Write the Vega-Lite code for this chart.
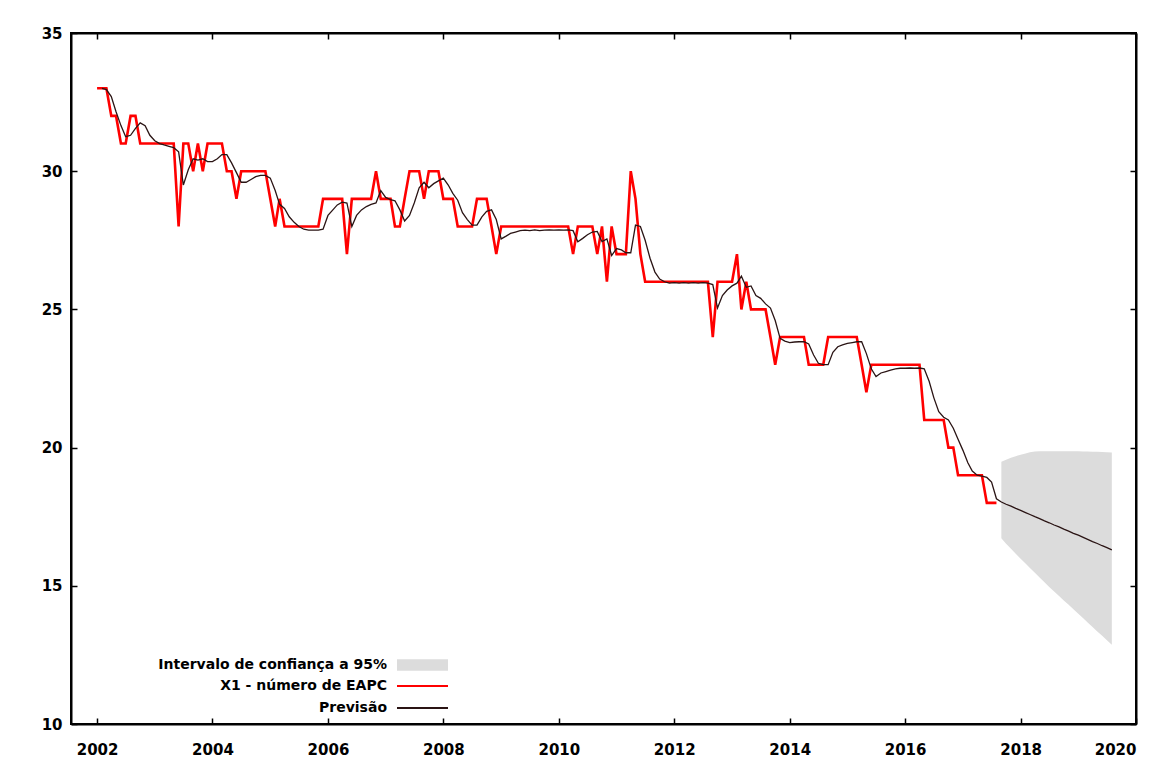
{
  "$schema": "https://vega.github.io/schema/vega-lite/v6.json",
  "width": 1065,
  "height": 691,
  "autosize": {"type": "none"},
  "padding": {"left": 71, "top": 33, "right": 28, "bottom": 50},
  "background": "white",
  "config": {
    "view": {"stroke": "#000", "strokeWidth": 2},
    "font": "DejaVu Sans",
    "axis": {
      "domainColor": "#000",
      "domainWidth": 2,
      "tickColor": "#000",
      "tickWidth": 1.5,
      "tickSize": -6,
      "grid": false,
      "labelFont": "DejaVu Sans",
      "labelFontWeight": "bold",
      "labelFontSize": 15,
      "labelColor": "#000"
    },
    "legend": {
      "title": null,
      "padding": 0,
      "labelFont": "DejaVu Sans",
      "labelFontWeight": "bold",
      "labelFontSize": 14,
      "labelColor": "#000",
      "labelLimit": 400,
      "labelAlign": "right",
      "labelOffset": -42.5,
      "symbolSize": 100
    }
  },
  "data": {
    "values": [
      {"d": "2002-01", "x1": 33},
      {"d": "2002-02", "x1": 33, "p": 33.0},
      {"d": "2002-03", "x1": 33, "p": 32.95},
      {"d": "2002-04", "x1": 32, "p": 32.7},
      {"d": "2002-05", "x1": 32, "p": 32.15},
      {"d": "2002-06", "x1": 31, "p": 31.65},
      {"d": "2002-07", "x1": 31, "p": 31.25},
      {"d": "2002-08", "x1": 32, "p": 31.3},
      {"d": "2002-09", "x1": 32, "p": 31.55},
      {"d": "2002-10", "x1": 31, "p": 31.75},
      {"d": "2002-11", "x1": 31, "p": 31.65},
      {"d": "2002-12", "x1": 31, "p": 31.3},
      {"d": "2003-01", "x1": 31, "p": 31.1},
      {"d": "2003-02", "x1": 31, "p": 31.0},
      {"d": "2003-03", "x1": 31, "p": 30.95},
      {"d": "2003-04", "x1": 31, "p": 30.9},
      {"d": "2003-05", "x1": 31, "p": 30.85},
      {"d": "2003-06", "x1": 28, "p": 30.7},
      {"d": "2003-07", "x1": 31, "p": 29.5},
      {"d": "2003-08", "x1": 31, "p": 30.05},
      {"d": "2003-09", "x1": 30, "p": 30.45},
      {"d": "2003-10", "x1": 31, "p": 30.4},
      {"d": "2003-11", "x1": 30, "p": 30.45},
      {"d": "2003-12", "x1": 31, "p": 30.35},
      {"d": "2004-01", "x1": 31, "p": 30.35},
      {"d": "2004-02", "x1": 31, "p": 30.45},
      {"d": "2004-03", "x1": 31, "p": 30.6},
      {"d": "2004-04", "x1": 30, "p": 30.6},
      {"d": "2004-05", "x1": 30, "p": 30.3},
      {"d": "2004-06", "x1": 29, "p": 29.95},
      {"d": "2004-07", "x1": 30, "p": 29.6},
      {"d": "2004-08", "x1": 30, "p": 29.6},
      {"d": "2004-09", "x1": 30, "p": 29.7},
      {"d": "2004-10", "x1": 30, "p": 29.8},
      {"d": "2004-11", "x1": 30, "p": 29.85},
      {"d": "2004-12", "x1": 30, "p": 29.85},
      {"d": "2005-01", "x1": 29, "p": 29.75},
      {"d": "2005-02", "x1": 28, "p": 29.3},
      {"d": "2005-03", "x1": 29, "p": 28.8},
      {"d": "2005-04", "x1": 28, "p": 28.65},
      {"d": "2005-05", "x1": 28, "p": 28.35},
      {"d": "2005-06", "x1": 28, "p": 28.15},
      {"d": "2005-07", "x1": 28, "p": 28.0},
      {"d": "2005-08", "x1": 28, "p": 27.9},
      {"d": "2005-09", "x1": 28, "p": 27.87},
      {"d": "2005-10", "x1": 28, "p": 27.87},
      {"d": "2005-11", "x1": 28, "p": 27.87},
      {"d": "2005-12", "x1": 29, "p": 27.9},
      {"d": "2006-01", "x1": 29, "p": 28.4},
      {"d": "2006-02", "x1": 29, "p": 28.6},
      {"d": "2006-03", "x1": 29, "p": 28.78},
      {"d": "2006-04", "x1": 29, "p": 28.88},
      {"d": "2006-05", "x1": 27, "p": 28.85},
      {"d": "2006-06", "x1": 29, "p": 28.0},
      {"d": "2006-07", "x1": 29, "p": 28.4},
      {"d": "2006-08", "x1": 29, "p": 28.6},
      {"d": "2006-09", "x1": 29, "p": 28.72},
      {"d": "2006-10", "x1": 29, "p": 28.8},
      {"d": "2006-11", "x1": 30, "p": 28.85},
      {"d": "2006-12", "x1": 29, "p": 29.3},
      {"d": "2007-01", "x1": 29, "p": 29.05},
      {"d": "2007-02", "x1": 29, "p": 28.97},
      {"d": "2007-03", "x1": 28, "p": 28.93},
      {"d": "2007-04", "x1": 28, "p": 28.6},
      {"d": "2007-05", "x1": 29, "p": 28.2},
      {"d": "2007-06", "x1": 30, "p": 28.4},
      {"d": "2007-07", "x1": 30, "p": 28.85},
      {"d": "2007-08", "x1": 30, "p": 29.4},
      {"d": "2007-09", "x1": 29, "p": 29.6},
      {"d": "2007-10", "x1": 30, "p": 29.4},
      {"d": "2007-11", "x1": 30, "p": 29.55},
      {"d": "2007-12", "x1": 30, "p": 29.65},
      {"d": "2008-01", "x1": 29, "p": 29.75},
      {"d": "2008-02", "x1": 29, "p": 29.5},
      {"d": "2008-03", "x1": 29, "p": 29.2},
      {"d": "2008-04", "x1": 28, "p": 28.95},
      {"d": "2008-05", "x1": 28, "p": 28.5},
      {"d": "2008-06", "x1": 28, "p": 28.25},
      {"d": "2008-07", "x1": 28, "p": 28.05},
      {"d": "2008-08", "x1": 29, "p": 28.05},
      {"d": "2008-09", "x1": 29, "p": 28.35},
      {"d": "2008-10", "x1": 29, "p": 28.55},
      {"d": "2008-11", "x1": 28, "p": 28.6},
      {"d": "2008-12", "x1": 27, "p": 28.25},
      {"d": "2009-01", "x1": 28, "p": 27.55},
      {"d": "2009-02", "x1": 28, "p": 27.65},
      {"d": "2009-03", "x1": 28, "p": 27.75},
      {"d": "2009-04", "x1": 28, "p": 27.8},
      {"d": "2009-05", "x1": 28, "p": 27.85},
      {"d": "2009-06", "x1": 28, "p": 27.87},
      {"d": "2009-07", "x1": 28, "p": 27.85},
      {"d": "2009-08", "x1": 28, "p": 27.88},
      {"d": "2009-09", "x1": 28, "p": 27.85},
      {"d": "2009-10", "x1": 28, "p": 27.87},
      {"d": "2009-11", "x1": 28, "p": 27.88},
      {"d": "2009-12", "x1": 28, "p": 27.87},
      {"d": "2010-01", "x1": 28, "p": 27.88},
      {"d": "2010-02", "x1": 28, "p": 27.87},
      {"d": "2010-03", "x1": 28, "p": 27.88},
      {"d": "2010-04", "x1": 27, "p": 27.85},
      {"d": "2010-05", "x1": 28, "p": 27.45},
      {"d": "2010-06", "x1": 28, "p": 27.57},
      {"d": "2010-07", "x1": 28, "p": 27.7},
      {"d": "2010-08", "x1": 28, "p": 27.8},
      {"d": "2010-09", "x1": 27, "p": 27.82},
      {"d": "2010-10", "x1": 28, "p": 27.45},
      {"d": "2010-11", "x1": 26, "p": 27.55},
      {"d": "2010-12", "x1": 28, "p": 26.95},
      {"d": "2011-01", "x1": 27, "p": 27.2},
      {"d": "2011-02", "x1": 27, "p": 27.15},
      {"d": "2011-03", "x1": 27, "p": 27.05},
      {"d": "2011-04", "x1": 30, "p": 27.05},
      {"d": "2011-05", "x1": 29, "p": 28.05},
      {"d": "2011-06", "x1": 27, "p": 28.0},
      {"d": "2011-07", "x1": 26, "p": 27.5},
      {"d": "2011-08", "x1": 26, "p": 26.85},
      {"d": "2011-09", "x1": 26, "p": 26.35},
      {"d": "2011-10", "x1": 26, "p": 26.1},
      {"d": "2011-11", "x1": 26, "p": 26.0},
      {"d": "2011-12", "x1": 26, "p": 25.95},
      {"d": "2012-01", "x1": 26, "p": 25.97},
      {"d": "2012-02", "x1": 26, "p": 25.95},
      {"d": "2012-03", "x1": 26, "p": 25.97},
      {"d": "2012-04", "x1": 26, "p": 25.95},
      {"d": "2012-05", "x1": 26, "p": 25.97},
      {"d": "2012-06", "x1": 26, "p": 25.95},
      {"d": "2012-07", "x1": 26, "p": 25.97},
      {"d": "2012-08", "x1": 26, "p": 25.95},
      {"d": "2012-09", "x1": 24, "p": 25.9},
      {"d": "2012-10", "x1": 26, "p": 25.05},
      {"d": "2012-11", "x1": 26, "p": 25.5},
      {"d": "2012-12", "x1": 26, "p": 25.7},
      {"d": "2013-01", "x1": 26, "p": 25.85},
      {"d": "2013-02", "x1": 27, "p": 25.95},
      {"d": "2013-03", "x1": 25, "p": 26.2},
      {"d": "2013-04", "x1": 26, "p": 25.8},
      {"d": "2013-05", "x1": 25, "p": 25.85},
      {"d": "2013-06", "x1": 25, "p": 25.5},
      {"d": "2013-07", "x1": 25, "p": 25.4},
      {"d": "2013-08", "x1": 25, "p": 25.2},
      {"d": "2013-09", "x1": 24, "p": 25.05},
      {"d": "2013-10", "x1": 23, "p": 24.6},
      {"d": "2013-11", "x1": 24, "p": 23.95},
      {"d": "2013-12", "x1": 24, "p": 23.85},
      {"d": "2014-01", "x1": 24, "p": 23.8},
      {"d": "2014-02", "x1": 24, "p": 23.82},
      {"d": "2014-03", "x1": 24, "p": 23.83},
      {"d": "2014-04", "x1": 24, "p": 23.83},
      {"d": "2014-05", "x1": 23, "p": 23.75},
      {"d": "2014-06", "x1": 23, "p": 23.35},
      {"d": "2014-07", "x1": 23, "p": 23.05},
      {"d": "2014-08", "x1": 23, "p": 23.0},
      {"d": "2014-09", "x1": 24, "p": 23.0},
      {"d": "2014-10", "x1": 24, "p": 23.45},
      {"d": "2014-11", "x1": 24, "p": 23.65},
      {"d": "2014-12", "x1": 24, "p": 23.72},
      {"d": "2015-01", "x1": 24, "p": 23.77},
      {"d": "2015-02", "x1": 24, "p": 23.8},
      {"d": "2015-03", "x1": 24, "p": 23.83},
      {"d": "2015-04", "x1": 23, "p": 23.83},
      {"d": "2015-05", "x1": 22, "p": 23.4},
      {"d": "2015-06", "x1": 23, "p": 22.85},
      {"d": "2015-07", "x1": 23, "p": 22.57},
      {"d": "2015-08", "x1": 23, "p": 22.7},
      {"d": "2015-09", "x1": 23, "p": 22.75},
      {"d": "2015-10", "x1": 23, "p": 22.8},
      {"d": "2015-11", "x1": 23, "p": 22.85},
      {"d": "2015-12", "x1": 23, "p": 22.87},
      {"d": "2016-01", "x1": 23, "p": 22.87},
      {"d": "2016-02", "x1": 23, "p": 22.88},
      {"d": "2016-03", "x1": 23, "p": 22.87},
      {"d": "2016-04", "x1": 23, "p": 22.88},
      {"d": "2016-05", "x1": 21, "p": 22.85},
      {"d": "2016-06", "x1": 21, "p": 22.4},
      {"d": "2016-07", "x1": 21, "p": 21.8},
      {"d": "2016-08", "x1": 21, "p": 21.3},
      {"d": "2016-09", "x1": 21, "p": 21.1},
      {"d": "2016-10", "x1": 20, "p": 21.0},
      {"d": "2016-11", "x1": 20, "p": 20.7},
      {"d": "2016-12", "x1": 19, "p": 20.3},
      {"d": "2017-01", "x1": 19, "p": 19.9},
      {"d": "2017-02", "x1": 19, "p": 19.45},
      {"d": "2017-03", "x1": 19, "p": 19.15},
      {"d": "2017-04", "x1": 19, "p": 19.0},
      {"d": "2017-05", "x1": 19, "p": 18.97},
      {"d": "2017-06", "x1": 18, "p": 18.92},
      {"d": "2017-07", "x1": 18, "p": 18.75},
      {"d": "2017-08", "x1": 18, "p": 18.15},
      {"d": "2017-09", "p": 18.03, "lo": 16.72, "hi": 19.49},
      {"d": "2017-10", "p": 17.95, "lo": 16.52, "hi": 19.56},
      {"d": "2017-11", "p": 17.88, "lo": 16.34, "hi": 19.63},
      {"d": "2017-12", "p": 17.8, "lo": 16.16, "hi": 19.69},
      {"d": "2018-01", "p": 17.73, "lo": 15.98, "hi": 19.74},
      {"d": "2018-02", "p": 17.65, "lo": 15.81, "hi": 19.79},
      {"d": "2018-03", "p": 17.58, "lo": 15.64, "hi": 19.83},
      {"d": "2018-04", "p": 17.5, "lo": 15.47, "hi": 19.86},
      {"d": "2018-05", "p": 17.43, "lo": 15.3, "hi": 19.87},
      {"d": "2018-06", "p": 17.35, "lo": 15.13, "hi": 19.87},
      {"d": "2018-07", "p": 17.28, "lo": 14.96, "hi": 19.87},
      {"d": "2018-08", "p": 17.2, "lo": 14.79, "hi": 19.87},
      {"d": "2018-09", "p": 17.13, "lo": 14.63, "hi": 19.87},
      {"d": "2018-10", "p": 17.05, "lo": 14.47, "hi": 19.87},
      {"d": "2018-11", "p": 16.98, "lo": 14.31, "hi": 19.87},
      {"d": "2018-12", "p": 16.9, "lo": 14.15, "hi": 19.87},
      {"d": "2019-01", "p": 16.83, "lo": 13.99, "hi": 19.87},
      {"d": "2019-02", "p": 16.75, "lo": 13.83, "hi": 19.86},
      {"d": "2019-03", "p": 16.68, "lo": 13.67, "hi": 19.86},
      {"d": "2019-04", "p": 16.6, "lo": 13.51, "hi": 19.85},
      {"d": "2019-05", "p": 16.53, "lo": 13.35, "hi": 19.85},
      {"d": "2019-06", "p": 16.45, "lo": 13.19, "hi": 19.84},
      {"d": "2019-07", "p": 16.38, "lo": 13.03, "hi": 19.83},
      {"d": "2019-08", "p": 16.3, "lo": 12.87, "hi": 19.82}
    ]
  },
  "layer": [
    {
      "transform": [{"filter": "isValid(datum.lo)"}],
      "mark": {"type": "area", "opacity": 1},
      "encoding": {
        "x": {
          "field": "d",
          "type": "temporal",
          "scale": {
            "type": "utc",
            "domain": [
              {"year": 2001, "month": 7, "date": 20, "utc": true},
              {"year": 2020, "month": 1, "date": 1, "utc": true}
            ]
          },
          "axis": {
            "orient": "bottom",
            "title": null,
            "format": "%Y",
            "formatType": "utc",
            "labelPadding": 24,
            "values": [
              {"year": 2002, "utc": true}, {"year": 2004, "utc": true},
              {"year": 2006, "utc": true}, {"year": 2008, "utc": true},
              {"year": 2010, "utc": true}, {"year": 2012, "utc": true},
              {"year": 2014, "utc": true}, {"year": 2016, "utc": true},
              {"year": 2018, "utc": true}, {"year": 2020, "utc": true}
            ]
          }
        },
        "y": {
          "field": "lo",
          "type": "quantitative",
          "scale": {"domain": [10, 35], "nice": false, "zero": false},
          "axis": {
            "orient": "left",
            "title": null,
            "values": [10, 15, 20, 25, 30, 35],
            "labelPadding": 15
          }
        },
        "y2": {"field": "hi"},
        "fill": {
          "datum": "Intervalo de confiança a 95%",
          "type": "nominal",
          "scale": {"domain": ["Intervalo de confiança a 95%"], "range": ["#dcdcdc"]},
          "legend": {
            "orient": "none",
            "legendX": 344.5,
            "legendY": 625,
            "symbolType": "M-5.1,-1.17H5.1V1.17H-5.1Z",
            "symbolStrokeWidth": 0,
            "symbolOpacity": 1
          }
        }
      }
    },
    {
      "transform": [{"filter": "isValid(datum.x1)"}],
      "mark": {"type": "line", "strokeWidth": 2.6},
      "encoding": {
        "x": {"field": "d", "type": "temporal", "axis": null},
        "y": {"field": "x1", "type": "quantitative", "axis": null},
        "stroke": {
          "datum": "X1 - número de EAPC",
          "type": "nominal",
          "scale": {"domain": ["X1 - número de EAPC", "Previsão"], "range": ["#ff0000", "#2a1414"]},
          "legend": {
            "orient": "none",
            "legendX": 344.5,
            "legendY": 646,
            "rowPadding": 8,
            "symbolType": "M-5.1,0H5.1",
            "symbolStrokeWidth": 2,
            "symbolOpacity": 1
          }
        }
      }
    },
    {
      "transform": [{"filter": "isValid(datum.p)"}],
      "mark": {"type": "line", "strokeWidth": 1.3},
      "encoding": {
        "x": {
          "field": "d",
          "type": "temporal",
          "axis": {
            "orient": "top",
            "title": null,
            "labels": false,
            "values": [
              {"year": 2002, "utc": true}, {"year": 2004, "utc": true},
              {"year": 2006, "utc": true}, {"year": 2008, "utc": true},
              {"year": 2010, "utc": true}, {"year": 2012, "utc": true},
              {"year": 2014, "utc": true}, {"year": 2016, "utc": true},
              {"year": 2018, "utc": true}, {"year": 2020, "utc": true}
            ]
          }
        },
        "y": {
          "field": "p",
          "type": "quantitative",
          "axis": {"orient": "right", "title": null, "labels": false, "values": [10, 15, 20, 25, 30, 35]}
        },
        "stroke": {"datum": "Previsão", "type": "nominal"}
      }
    }
  ],
  "resolve": {"axis": {"x": "independent", "y": "independent"}}
}
